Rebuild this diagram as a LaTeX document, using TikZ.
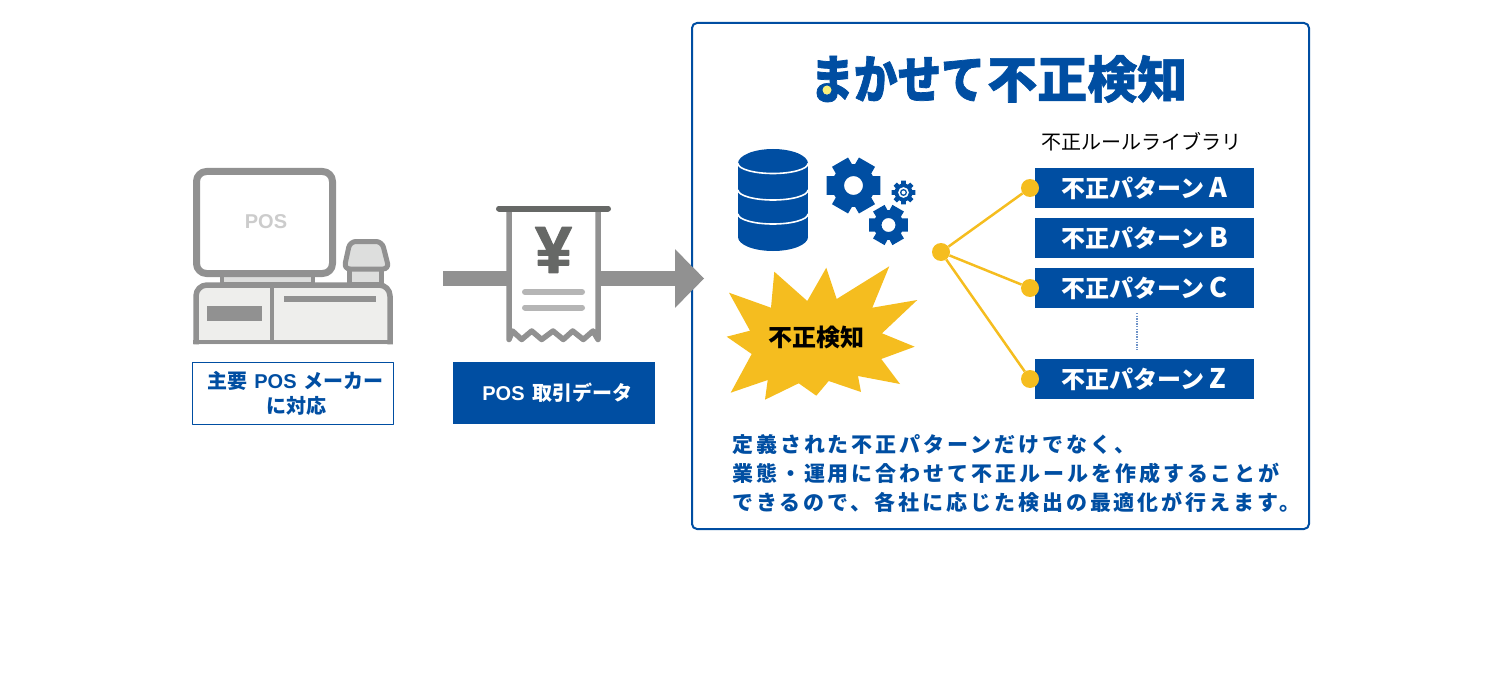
\documentclass[tikz,border=0pt]{standalone}
\usepackage{fontspec}
\usetikzlibrary{arrows.meta}
\setmainfont{Noto Sans CJK JP}
\newfontfamily\jpb{Noto Sans CJK JP}
\newfontfamily\jpspaced[LetterSpace=14]{Noto Sans CJK JP}
\newfontfamily\jptight[FakeStretch=0.84,FakeBold=1.4]{Noto Sans CJK JP}
\newfontfamily\jptitle[FakeBold=1.2]{Noto Sans CJK JP}
\newfontfamily\latn{Liberation Sans}
\newfontfamily\yenfont[FakeBold=2]{Liberation Sans}
\newcommand{\fs}[1]{\fontsize{#1}{#1}\selectfont}
\newcommand{\lat}[1]{{\latn\bfseries #1}}
\definecolor{bl}{HTML}{004EA2}
\definecolor{yl}{HTML}{F5BD1F}
\definecolor{gr}{HTML}{919191}
\definecolor{dk}{HTML}{666866}
\definecolor{lg}{HTML}{EEEEEC}
\definecolor{mg}{HTML}{DDDEDD}
\definecolor{lb}{HTML}{B5B5B5}
\definecolor{dotyl}{HTML}{FAF07A}
\definecolor{dotbl}{HTML}{6F93C8}
\tikzset{
  patbox/.style={fill=bl,inner sep=0pt,minimum width=219pt,minimum height=40.5pt,text=white,font=\jpb\bfseries\fs{24}},
  dotnode/.style={circle,fill=yl,inner sep=0pt,minimum size=18pt},
  yline/.style={draw=yl,line width=2.5pt},
}
\newcommand{\patname}[1]{\makebox[166pt][l]{不正パターン\hspace{5pt}{\fs{27}#1}}}
\newcommand{\gear}[7]{% cx cy R root hole n toothhalfangle
  \begin{scope}[shift={(#1,#2)}]
  \pgfmathsetmacro{\st}{360/#6}
  \pgfmathsetmacro{\last}{#6-1}
  \fill[bl,even odd rule] (-#7*1.35:#4)
    \foreach \i in {0,...,\last}{
      -- ({\i*\st-#7*1.35}:#4) -- ({\i*\st-#7}:#3) -- ({\i*\st+#7}:#3) -- ({\i*\st+#7*1.35}:#4)
    } -- cycle (0,0) circle (#5);
  \end{scope}}
\begin{document}
\begin{tikzpicture}[x=1pt,y=-1pt,line join=round]
\useasboundingbox (0,0) rectangle (1500,674);

% POS terminal
\draw[draw=gr,line width=5pt,fill=mg] (349.5,265) rectangle (381.5,284);
\draw[draw=gr,line width=5pt,fill=mg,rounded corners=6pt] (350,241.5) -- (382,241.5) -- (389,269) -- (344,269) -- cycle;
\draw[draw=gr,line width=4pt,fill=mg] (222,274) rectangle (313,284);
\draw[draw=gr,line width=5.5pt,fill=lg] (196,344.3) {[rounded corners=11pt] -- (196,285) -- (390,285)} -- (390,344.3);
\fill[gr] (193.2,340.2) rectangle (392.8,344.3);
\draw[draw=gr,line width=3.5pt] (272,285) -- (272,342);
\fill[gr] (207,306) rectangle (262,321);
\fill[gr] (284,296) rectangle (376,302);
\draw[draw=gr,line width=7pt,fill=white,rounded corners=10pt] (196.5,171.5) rectangle (332.5,273.5);
\node[text=black!20,font=\latn\bfseries\fs{20}] (postext) at (266,222) {POS};
\node[draw=bl,line width=1pt,fill=white,minimum width=201pt,minimum height=62pt,inner sep=0pt,align=center,text=bl,font=\jpb\bfseries\fs{20}] (poslabel) at (293,393) {\hspace*{5pt}主要\hspace{7pt}\lat{POS}\hspace{7pt}メーカー\\[5pt]\hspace*{6pt}に対応};

% big arrow
\coordinate (arrowstart) at (443,278.5);
\coordinate (arrowtip) at (704,278.5);
\draw[draw=gr,line width=15pt,-{Triangle[length=29pt,width=57pt]}] (arrowstart) -- (arrowtip);

% receipt
\draw[draw=gr,line width=5.5pt,line cap=round,fill=white]
  (509,210) -- (509,339.5) -- (512.5,331) -- (521.7,339.5) -- (531.7,331) -- (541.7,339.5) -- (553,331) -- (563.3,339.5) -- (572.7,331) -- (583.3,339.5) -- (593,331) -- (598,339.5) -- (598,210);
\draw[draw=dk,line width=6pt,line cap=round] (499,208.5) -- (608,208.5);
\node[text=dk,font=\yenfont\bfseries\fs{66},inner sep=0pt] (yen) at (553.5,250) {¥};
\draw[draw=lb,line width=6pt,line cap=round] (525,292) -- (582,292);
\draw[draw=lb,line width=6pt,line cap=round] (525,307.5) -- (582,307.5);
\node[fill=bl,minimum width=202pt,minimum height=62pt,inner sep=0pt,text=white,font=\jpb\bfseries\fs{20}] (posdata) at (554,393) {\hspace*{7pt}\lat{POS}\hspace{8pt}取引データ};

% frame
\draw[draw=bl,line width=2pt,rounded corners=5pt] (692,23) rectangle (1309,529);
\fill[gr] (675,250) -- (704,278.5) -- (675,307) -- cycle;

% title
\node[anchor=west,text=bl,inner sep=0pt,font=\jptight\bfseries\fs{52}] (title1) at (810,79) {まかせて};
\node[anchor=west,text=bl,inner sep=0pt,font=\jptitle\bfseries\fs{50}] (title2) at (987,79) {不正検知};
\fill[dotyl] (827,90) circle (4.5);

% database
\fill[bl] (738,163.5) rectangle (808,237);
\fill[bl] (773,163.5) ellipse (35 and 14.5);
\fill[bl] (773,237) ellipse (35 and 14);
\foreach \yy in {163.5,190,214}{
  \draw[white,line width=1.6pt] (738,\yy) arc[start angle=180,end angle=360,x radius=35,y radius=-10];
}

% gears
\gear{853.5}{185.5}{28.5}{21.5}{9.5}{6}{19}
\gear{888.5}{225}{20.5}{15}{7}{6}{19}
\begin{scope}[shift={(903.5,192.5)}]
\pgfmathsetmacro{\st}{45}
\fill[bl,even odd rule] (-15:9)
  \foreach \i in {0,...,7}{
    -- ({\i*\st-15}:9) -- ({\i*\st-11}:12) -- ({\i*\st+11}:12) -- ({\i*\st+15}:9)
  } -- cycle (0,0) circle (5.5);
\fill[bl] (0,0) circle (3.5);
\fill[white] (0,0) circle (2);
\end{scope}

% star
\fill[yl] (729,292.7) -- (771,307.7) -- (774.3,271.7) -- (807.3,301) -- (826.3,267.7) -- (836.7,299) -- (889.3,266.3) -- (872.3,307.7) -- (917.3,300) -- (882,333.3) -- (914.7,346.7) -- (881.3,359) -- (900,384) -- (858,376) -- (861,392) -- (828.7,381) -- (816.3,395.7) -- (798.7,383.3) -- (765,399.7) -- (767.7,380) -- (730.7,392.7) -- (751.7,354) -- (726.7,336.7) -- (750,330.7) -- cycle;
\node[text=black,font=\jpb\bfseries\fs{24},inner sep=0pt] (burst) at (816,337) {不正検知};

% library
\node[text=black,font=\jpb\fs{20},inner sep=0pt] (libtitle) at (1141,142) {不正ルールライブラリ};
\node[patbox] (pa) at (1144.5,188) {\patname{A}};
\node[patbox] (pb) at (1144.5,238) {\patname{B}};
\node[patbox] (pc) at (1144.5,288) {\patname{C}};
\node[patbox] (pz) at (1144.5,379) {\patname{Z}};
\coordinate (dottop) at (1137,313);
\coordinate (dotbottom) at (1137,350);
\draw[draw=dotbl,line width=1.3pt,dash pattern=on 1.3pt off 1.3pt] (dottop) -- (dotbottom);

\node[dotnode] (hub) at (941,252) {};
\node[dotnode] (da) at (1030,188) {};
\node[dotnode] (dc) at (1030,288) {};
\node[dotnode] (dz) at (1030,379) {};
\draw[yline] (hub) -- (da);
\draw[yline] (hub) -- (dc);
\draw[yline] (hub) -- (dz);

% caption
\node[anchor=north west,align=left,text=bl,inner sep=0pt,font=\jpspaced\bfseries\fs{21}] (caption) at (732,434) {定義された不正パターンだけでなく、\\[8pt]業態・運用に合わせて不正ルールを作成することが\\[8pt]できるので、各社に応じた検出の最適化が行えます。};
\end{tikzpicture}
\end{document}
